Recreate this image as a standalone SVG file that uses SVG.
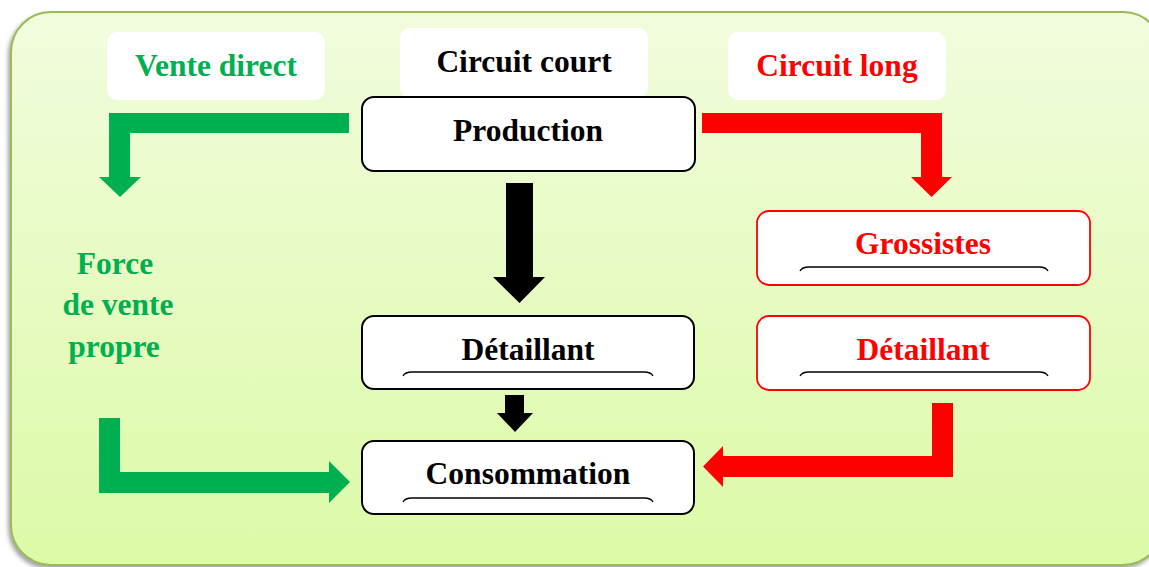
<svg xmlns="http://www.w3.org/2000/svg" width="1149" height="567" viewBox="0 0 1149 567">
<defs>
<linearGradient id="bg" x1="0" y1="0" x2="0" y2="1">
<stop offset="0" stop-color="#f1fcdd"/>
<stop offset="1" stop-color="#dcfaa7"/>
</linearGradient>
<filter id="sh" x="-5%" y="-5%" width="110%" height="110%">
<feDropShadow dx="-2" dy="3" stdDeviation="2" flood-color="#666" flood-opacity="0.6"/>
</filter>
</defs>
<style>
text{font-family:"Liberation Serif","Times New Roman",serif;font-weight:bold;font-size:31.5px;text-anchor:middle}
.g{fill:#00b050}
.r{fill:#ff0000}
.k{fill:#000}
.lbl{fill:#fff}
.nb{fill:#fff;stroke:#000;stroke-width:2}
.nr{fill:#fff;stroke:#ff0000;stroke-width:1.8}
.deco{fill:none;stroke:#000;stroke-width:1.3}
</style>
<rect id="panel" x="11" y="12" width="1152" height="553" rx="40" fill="url(#bg)" stroke="#9bbb59" stroke-width="2" filter="url(#sh)"/>

<g id="label-vente-direct">
<rect class="lbl" x="107" y="32" width="218" height="68" rx="10"/>
<text class="g" x="216" y="76">Vente direct</text>
</g>
<g id="label-circuit-court">
<rect class="lbl" x="400" y="28" width="248" height="70" rx="10"/>
<text class="k" x="524" y="72">Circuit court</text>
</g>
<g id="label-circuit-long">
<rect class="lbl" x="728" y="32" width="218" height="68" rx="10"/>
<text class="r" x="837" y="76">Circuit long</text>
</g>

<g id="node-production">
<rect class="nb" x="362" y="97" width="333" height="74" rx="12"/>
<text class="k" x="528" y="141">Production</text>
</g>
<g id="node-detaillant">
<rect class="nb" x="362" y="316" width="332" height="73" rx="12"/>
<text class="k" x="528" y="360">Détaillant</text>
<path class="deco" d="M403,376 Q405,372 412,372 L644,372 Q651,372 653,376"/>
</g>
<g id="node-consommation">
<rect class="nb" x="362" y="441" width="332" height="73" rx="12"/>
<text class="k" x="528" y="484">Consommation</text>
<path class="deco" d="M403,502 Q405,498 412,498 L644,498 Q651,498 653,502"/>
</g>
<g id="node-grossistes">
<rect class="nr" x="757" y="211" width="333" height="74" rx="12"/>
<text class="r" x="923" y="254">Grossistes</text>
<path class="deco" d="M800,271 Q802,267 809,267 L1039,267 Q1046,267 1048,271"/>
</g>
<g id="node-detaillant-long">
<rect class="nr" x="757" y="316" width="333" height="74" rx="12"/>
<text class="r" x="923" y="360">Détaillant</text>
<path class="deco" d="M800,376 Q802,372 809,372 L1039,372 Q1046,372 1048,376"/>
</g>
<g id="node-force-de-vente">
<text class="g" x="115" y="274">Force</text>
<text class="g" x="118" y="315">de vente</text>
<text class="g" x="114" y="357">propre</text>
</g>

<g id="connectors">
<path class="g" d="M349,113 L109,113 L109,177 L99,177 L120,197 L141,177 L130,177 L130,133 L349,133 Z"/>
<path class="r" d="M702,113 L942,113 L942,177 L952,177 L931.5,197 L911,177 L921,177 L921,133 L702,133 Z"/>
<path class="k" d="M506,183 L533,183 L533,277 L545,277 L519.5,303 L493,277 L506,277 Z"/>
<path class="k" d="M505,395 L524,395 L524,413 L533,413 L515,432 L497,413 L505,413 Z"/>
<path class="g" d="M99,418 L120,418 L120,472 L329,472 L329,461 L350,482 L329,503 L329,493 L99,493 Z"/>
<path class="r" d="M953,403 L932,403 L932,456 L723,456 L723,446 L703,466.5 L723,487 L723,477 L953,477 Z"/>
</g>
</svg>
